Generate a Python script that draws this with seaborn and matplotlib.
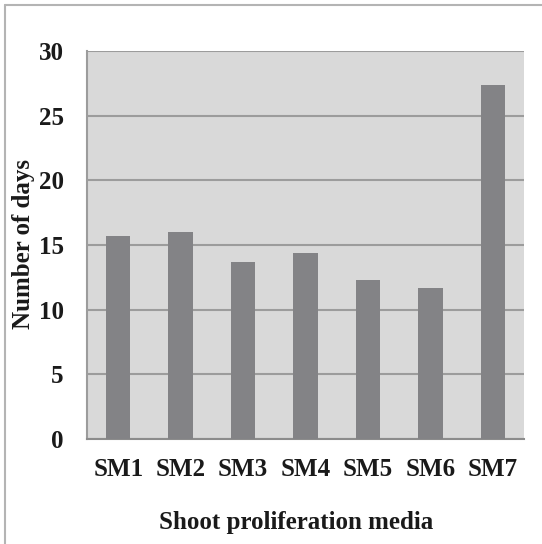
import matplotlib
matplotlib.use("Agg")
import matplotlib.pyplot as plt
import seaborn as sns
import pandas as pd
from matplotlib.lines import Line2D

categories = ["SM1", "SM2", "SM3", "SM4", "SM5", "SM6", "SM7"]
values = [15.7, 16.0, 13.7, 14.4, 12.3, 11.7, 27.4]
yticks = [0, 5, 10, 15, 20, 25, 30]
xlabel = "Shoot proliferation media"
ylabel = "Number of days"

sns.set_style("white")
plt.rcParams["font.family"] = ["Liberation Serif", "DejaVu Serif"]

df = pd.DataFrame({"media": categories, "days": values})

fig = plt.figure(figsize=(5.42, 5.44), dpi=100)
ax = fig.add_axes([87/542, 1-439/544, (524-87)/542, (439-51)/544])
ax.set_facecolor("#d9d9d9")

sns.barplot(data=df, x="media", y="days", color="#838386", width=0.39,
            saturation=1, ax=ax, zorder=3, linewidth=0, edgecolor="none")

ax.set_ylim(0, 30)
ax.set_xlim(-0.5, 6.5)
ax.set_yticks(yticks)
ax.set_yticklabels([str(t) for t in yticks], fontsize=18, fontweight="bold", color="#1a1a1a")
ax.yaxis.grid(True, color="#9c9c9c", linewidth=1.5, zorder=1)
ax.set_axisbelow(True)
ax.tick_params(axis="y", length=5.8, width=1.2, color="#9c9c9c", pad=11)

ax.set_xticks(range(len(categories)))
ax.set_xticklabels(categories, fontsize=18, fontweight="bold", color="#1a1a1a")
ax.set_xticks([i - 0.5 for i in range(len(categories) + 1)], minor=True)
ax.tick_params(axis="x", which="major", length=0, pad=14)
ax.tick_params(axis="x", which="minor", length=5.2, width=1.2, color="#9c9c9c")

for s in ["top", "right"]:
    ax.spines[s].set_visible(False)
ax.spines["left"].set_color("#9c9c9c")
ax.spines["left"].set_linewidth(1.5)
ax.spines["bottom"].set_color("#8c8c8c")
ax.spines["bottom"].set_linewidth(1.5)

ax.set_xlabel("")
ax.set_ylabel("")
fig.text(296/542, 1-522/544, xlabel, ha="center", va="center",
         fontsize=18, fontweight="bold", color="#1a1a1a")
fig.text(24/542, 1-244/544, ylabel, ha="center", va="center", rotation=90,
         fontsize=18, fontweight="bold", color="#1a1a1a")

# outer frame (top and left edges visible)
fig.add_artist(Line2D([5/542, 1], [1-5/544, 1-5/544], transform=fig.transFigure,
                      color="#b4b4b4", linewidth=1.5))
fig.add_artist(Line2D([5/542, 5/542], [0, 1-5/544], transform=fig.transFigure,
                      color="#b4b4b4", linewidth=1.5))

fig.savefig("out.png", dpi=100, facecolor="white")
